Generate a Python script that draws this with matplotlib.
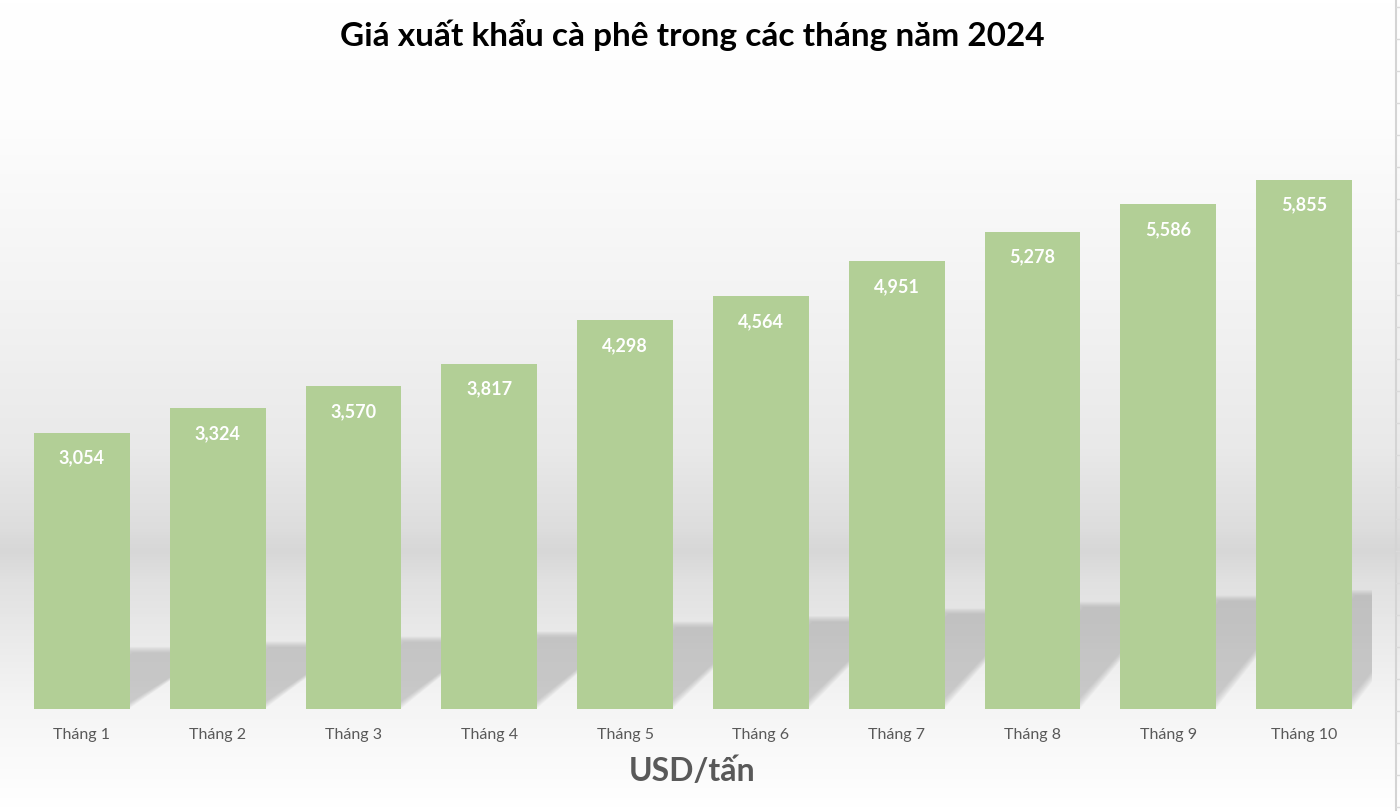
import numpy as np
import matplotlib.pyplot as plt
from matplotlib.colors import LinearSegmentedColormap

months = ['Tháng 1', 'Tháng 2', 'Tháng 3', 'Tháng 4', 'Tháng 5',
          'Tháng 6', 'Tháng 7', 'Tháng 8', 'Tháng 9', 'Tháng 10']
prices = [3054, 3324, 3570, 3817, 4298, 4564, 4951, 5278, 5586, 5855]

title = 'Giá xuất khẩu cà phê trong các tháng năm 2024'
unit = 'USD/tấn'

plt.rcParams['font.family'] = ['Lato', 'DejaVu Sans']

fig = plt.figure(figsize=(14, 8.12), dpi=100)

# background gradient (whole figure)
bg = fig.add_axes([0, 0, 1, 1], zorder=0)
stops = [(0.0, '#ffffff'), (120 / 812, '#fdfdfd'), (300 / 812, '#f3f3f3'),
         (450 / 812, '#e9e9e9'), (530 / 812, '#dddddd'), (552 / 812, '#d7d7d7'),
         (580 / 812, '#e0e0e0'), (650 / 812, '#ececec'), (710 / 812, '#f5f5f5'),
         (1.0, '#ffffff')]
cmap = LinearSegmentedColormap.from_list('bg', stops)
grad = np.linspace(0, 1, 812).reshape(-1, 1)
bg.imshow(grad, aspect='auto', cmap=cmap, extent=[0, 1, 0, 1], origin='upper')
# spreadsheet edge on the right
bg.axvline(1396 / 1400, color='#d4d4d4', lw=1.5)
for yy in np.arange(8, 812, 32):
    bg.plot([1396 / 1400, 1], [1 - yy / 812] * 2, color='#dadada', lw=1)
bg.set_xlim(0, 1)
bg.set_ylim(0, 1)
bg.axis('off')

ax = fig.add_axes([14 / 1400, 102 / 812, 1358 / 1400, 633 / 812], zorder=1)
ax.patch.set_alpha(0)
x = np.arange(len(months))
w = 0.706

# soft floor shadows behind bars
for xi, v in zip(x, prices):
    h = 0.225 * v
    dx = 0.66
    x0, x1 = xi - w / 2, xi + w / 2
    for k in range(8):
        s = k * 0.01
        ax.fill([x0 + s, x1 - s, x1 + dx - s, x0 + dx + s],
                [10, 10, h - s * 900, h - s * 900],
                color='#9a9a9a', alpha=0.07, lw=0, zorder=1, clip_on=True)

bars = ax.bar(x, prices, width=w, color='#b2cf96', zorder=3)
for xi, v in zip(x, prices):
    ax.text(xi, v - 270, f'{v:,}', ha='center', va='center', color='white',
            fontsize=13, fontweight='bold', zorder=4)

ax.set_xlim(-0.5, len(months) - 0.5)
ax.set_ylim(0, 7000)
ax.set_xticks(x)
ax.set_xticklabels(months, fontsize=11.5, color='#595959')
ax.tick_params(axis='x', length=0, pad=13)
ax.set_yticks([])
for sp in ax.spines.values():
    sp.set_visible(False)

fig.text(692 / 1400, 1 - 35 / 812, title, ha='center', va='center',
         fontsize=24, fontweight='bold', color='black')
fig.text(692 / 1400, 1 - 772 / 812, unit, ha='center', va='center',
         fontsize=23, fontweight='bold', color='#595959')

fig.savefig('out.png', dpi=100)
